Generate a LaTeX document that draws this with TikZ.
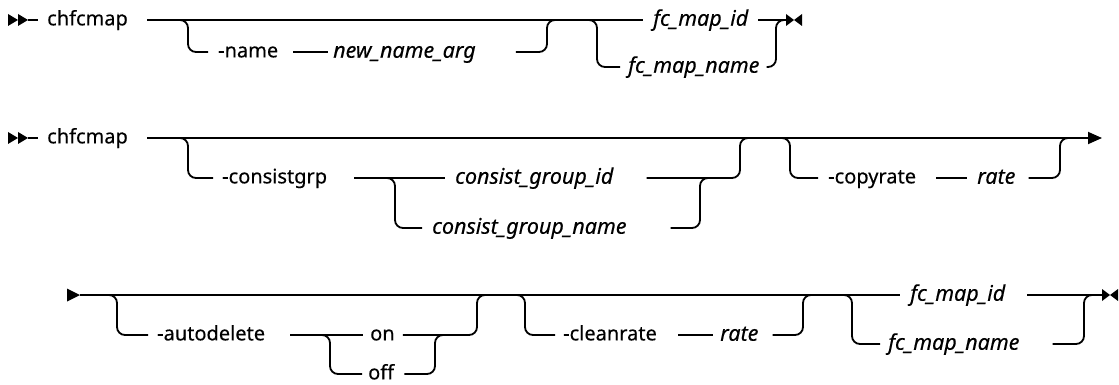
\documentclass[tikz,border=0pt]{standalone}
\usepackage{fontspec}
\setmainfont{Noto Sans}[FakeBold=0.3]
\usetikzlibrary{arrows.meta}

\tikzset{
  rr/.style={line width=1.8pt},
  kw/.style={anchor=west, inner sep=0pt, text height=14.72pt, text depth=4pt, font=\fontsize{20}{24}\selectfont},
  var/.style={kw, text height=15.8pt, text depth=4.3pt, font=\fontsize{21.5}{25}\selectfont\itshape},
  branch/.style={rr, rounded corners=8pt},
  dropdown/.style={to path={-- ++(10pt,0) |- (\tikztotarget)}},
  riseup/.style={to path={-| ([xshift=-10pt]\tikztotarget) -- (\tikztotarget)}},
  startmark/.pic={
    \fill (0,-6) -- (10,0) -- (0,6) -- cycle (10,-6) -- (20,0) -- (10,6) -- cycle;
    \draw[rr] (20,0) -- (30,0);
  },
  contmark/.pic={\fill (0,-6.5) -- (13,0) -- (0,6.5) -- cycle;},
  endmark/.pic={\fill (0,-6) -- (8,0) -- (0,6) -- cycle (16,-6) -- (8,0) -- (16,6) -- cycle;}
}

\begin{document}
\begin{tikzpicture}[x=1pt,y=-1pt]
\useasboundingbox (0,0) rectangle (1119,385);

% first form: rename the mapping
\pic at (8,20) {startmark};
\node[kw] (cmd1) at (47,20) {chfcmap};
\node[kw] (nm1) at (218,52) {-name};
\node[var] (nna1) at (333,52) {new\_name\_arg};
\node[var] (fid1) at (653,20) {fc\_map\_id};
\node[var] (fnm1) at (628,67) {fc\_map\_name};
\coordinate (b1) at (178,20);
\coordinate (m1) at (557,20);
\coordinate (b2) at (587,20);
\coordinate (m2) at (786,20);
\draw[rr, shorten <=19pt, shorten >=10pt] (cmd1.east) -- (fid1.west);
\draw[rr, shorten <=10pt] (fid1.east) -- (m2);
\draw[branch, shorten >=10pt] (b1) to[dropdown] (nm1.west);
\draw[rr, shorten <=15pt, shorten >=5pt] (nm1.east) -- (nna1.west);
\draw[branch, shorten <=40pt] (nna1.east) to[riseup] (m1);
\draw[branch, shorten >=8pt] (b2) to[dropdown] (fnm1.west);
\draw[branch, shorten <=7pt] (fnm1.east) to[riseup] (m2);
\pic at (m2) {endmark};

% second form: attributes
\pic at (8,138) {startmark};
\node[kw] (cmd2) at (47,138) {chfcmap};
\node[kw] (cg) at (222,178) {-consistgrp};
\node[var] (cgi) at (455,178) {consist\_group\_id};
\node[var] (cgn) at (432,228) {consist\_group\_name};
\node[kw] (cr) at (828,178) {-copyrate};
\node[var] (rt1) at (977,178) {rate};
\coordinate (b3) at (178,138);
\coordinate (b4) at (385,178);
\coordinate (m4) at (710,178);
\coordinate (m5) at (750,138);
\coordinate (b5) at (780,138);
\coordinate (m6) at (1070,138);
\coordinate (a2) at (1102,138);
\draw[rr, shorten <=19pt, -{Triangle[length=14pt,width=12pt]}] (cmd2.east) -- (a2);
\draw[branch, shorten >=9pt] (b3) to[dropdown] (cg.west);
\draw[rr, shorten <=27pt, shorten >=10pt] (cg.east) -- (cgi.west);
\draw[branch, shorten >=10pt] (b4) to[dropdown] (cgn.west);
\draw[branch, shorten <=33pt] (cgi.east) to[riseup] (m5);
\draw[branch, shorten <=44pt] (cgn.east) to[riseup] (m4);
\draw[branch, shorten >=10pt] (b5) to[dropdown] (cr.west);
\draw[rr, shorten <=20pt, shorten >=10pt] (cr.east) -- (rt1.west);
\draw[branch, shorten <=13pt] (rt1.east) to[riseup] (m6);

% continuation
\pic at (67,295) {contmark};
\coordinate (s3) at (80,295);
\node[kw] (ad) at (157,335) {-autodelete};
\node[kw] (on) at (370,335) {on};
\node[kw] (off) at (368,374) {off};
\node[kw] (cl) at (563,335) {-cleanrate};
\node[var] (rt2) at (720,335) {rate};
\node[var] (fid3) at (910,295) {fc\_map\_id};
\node[var] (fnm3) at (888,344) {fc\_map\_name};
\coordinate (b6) at (107,295);
\coordinate (b7) at (320,335);
\coordinate (m7) at (445,335);
\coordinate (m8) at (487,295);
\coordinate (b8) at (515,295);
\coordinate (m9) at (813,295);
\coordinate (b9) at (842,295);
\coordinate (m10) at (1094,295);
\coordinate (e3) at (1102,295);
\draw[rr, shorten >=10pt] (s3) -- (fid3.west);
\draw[rr, shorten <=22pt] (fid3.east) -- (e3);
\draw[branch, shorten >=9pt] (b6) to[dropdown] (ad.west);
\draw[rr, shorten <=25pt, shorten >=7pt] (ad.east) -- (on.west);
\draw[branch, shorten >=6pt] (b7) to[dropdown] (off.west);
\draw[branch, shorten <=10pt] (off.east) to[riseup] (m7);
\draw[branch, shorten <=8pt] (on.east) to[riseup] (m8);
\draw[branch, shorten >=8pt] (b8) to[dropdown] (cl.west);
\draw[rr, shorten <=21pt, shorten >=7pt] (cl.east) -- (rt2.west);
\draw[branch, shorten <=14pt] (rt2.east) to[riseup] (m9);
\draw[branch, shorten >=8pt] (b9) to[dropdown] (fnm3.west);
\draw[branch, shorten <=33pt] (fnm3.east) to[riseup] (m10);
\pic at (e3) {endmark};
\end{tikzpicture}
\end{document}
